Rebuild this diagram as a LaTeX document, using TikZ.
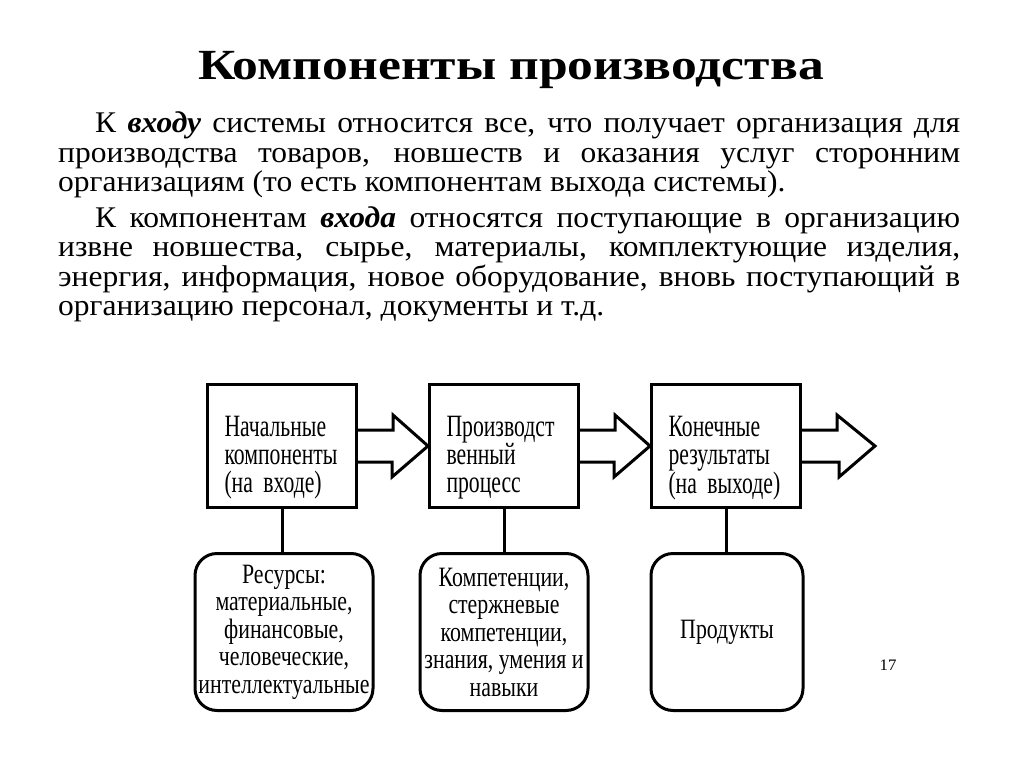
\documentclass[tikz,border=0pt]{standalone}
\usepackage{fontspec}
\setmainfont{Liberation Serif}[FakeStretch=1.05]
\newfontfamily\titlefont{Liberation Serif}[FakeStretch=1.2]
\newfontfamily\diagfont{Liberation Serif}[FakeStretch=0.7]
\newfontfamily\resfont{Liberation Serif}[FakeStretch=0.78]

\newcommand{\flow}[2]{%
  \draw[line width=3pt] ([yshift=16pt]#1.east) -- ++(35,0) -- ++(0,-15) -- (#2)
    -- ++(-36,31) -- ++(0,-15) -- ([yshift=-16pt]#1.east);}

\begin{document}
\begin{tikzpicture}
  [x=1pt,y=-1pt,
   txt/.style={anchor=base west,inner sep=0pt,text width=902pt,align=justify,
     font=\fontsize{30}{29.5}\selectfont},
   box/.style={draw,line width=3pt,minimum width=149pt,minimum height=123pt,
     inner sep=0pt,text width=115pt,align=left,font=\diagfont\fontsize{31}{28}\selectfont,
     execute at begin node={\rule{0pt}{44pt}}},
   res/.style={draw,line width=3pt,rounded corners=22pt,minimum height=157pt,
     inner sep=0pt,align=center,font=\resfont\fontsize{28}{27.5}\selectfont}]
  \useasboundingbox (0,0) rectangle (1024,767);

  \node (title) at (511,70) {\titlefont\fontsize{43}{48}\selectfont\bfseries Компоненты производства};

  \node[txt] (p1) at (58,133) {\hspace*{37pt}К \textbf{\textit{входу}} системы относится все, что получает организация для \linebreak
    производства товаров, новшеств и оказания услуг сторонним \linebreak
    организациям (то есть компонентам выхода системы).};
  \node[txt] (p2) at (58,227) {\hspace*{37pt}К компонентам \textbf{\textit{входа}} относятся поступающие в организацию \linebreak
    извне новшества, сырье, материалы, комплектующие изделия, \linebreak
    энергия, информация, новое оборудование, вновь поступающий в \linebreak
    организацию персонал, документы и т.д.};

  \node[box] (b1) at (282,446) {Начальные\\ компоненты\\ (на входе)};
  \node[box] (b2) at (504,446) {Производст\\ венный\\ процесс};
  \node[box] (b3) at (726,446) {Конечные\\ результаты\\ (на выходе)};
  \coordinate (end) at (875,446);

  \node[res,minimum width=178pt] (r1) at (284,632) {Ресурсы:\\ материальные,\\ финансовые,\\ человеческие,\\ интеллектуальные};
  \node[res,minimum width=168pt] (r2) at (504,632) {Компетенции,\\ стержневые\\ компетенции,\\ знания, умения и\\ навыки};
  \node[res,minimum width=152pt] (r3) at (727,632) {Продукты};

  \flow{b1}{b2.west}
  \flow{b2}{b3.west}
  \flow{b3}{end}

  \draw[line width=3pt] (b1.south) -- (b1.south |- r1.north);
  \draw[line width=3pt] (b2.south) -- (b2.south |- r2.north);
  \draw[line width=3pt] (b3.south) -- (b3.south |- r3.north);

  \node (pg) at (888,665) {\fontsize{16}{18}\selectfont 17};
\end{tikzpicture}
\end{document}
